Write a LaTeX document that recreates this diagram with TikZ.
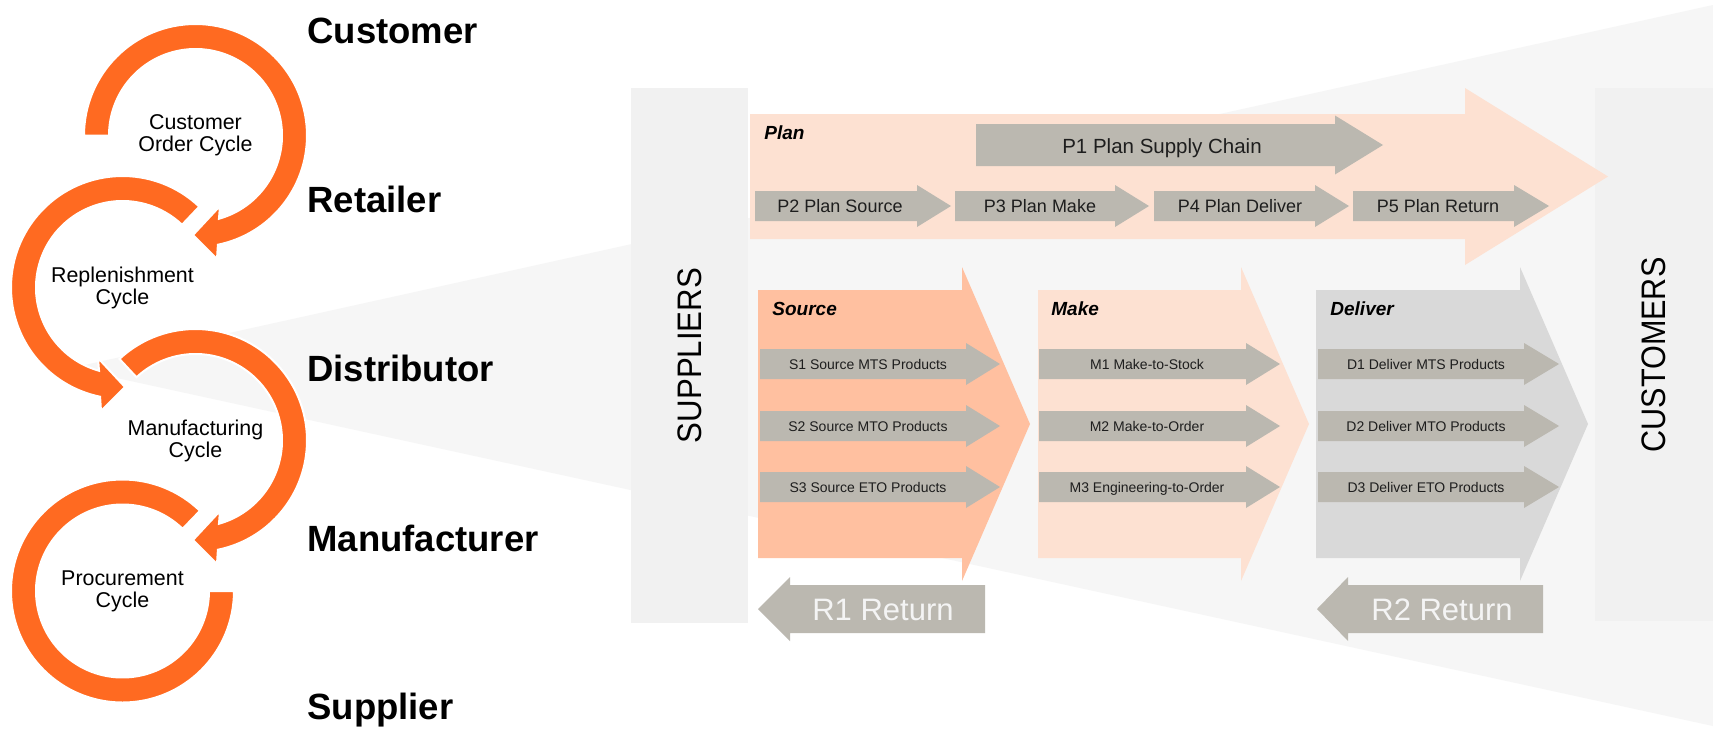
\documentclass[tikz,border=0pt]{standalone}
\usepackage{fontspec}
\setmainfont{Liberation Sans}
\definecolor{ringor}{HTML}{FF6A21}
\definecolor{srccol}{HTML}{FFC0A0}
\definecolor{lightpk}{HTML}{FDE1D2}
\definecolor{delcol}{HTML}{D9D9D9}
\definecolor{arrgrey}{HTML}{BBB8B0}
\definecolor{funnelcol}{HTML}{F6F6F6}
\definecolor{barcol}{HTML}{F1F1F1}
\definecolor{txtdark}{HTML}{1E1E1E}
\definecolor{rtextcol}{HTML}{F4F4F4}
\newcommand{\fwdarrow}[7]{\fill[#1] (#2,{#5-#6}) -- (#3,{#5-#6}) -- (#3,{#5-#7}) -- (#4,#5) -- (#3,{#5+#7}) -- (#3,{#5+#6}) -- (#2,{#5+#6}) -- cycle;}
\newcommand{\backarrow}[7]{\fill[#1] (#2,#5) -- (#3,{#5-#7}) -- (#3,{#5-#6}) -- (#4,{#5-#6}) -- (#4,{#5+#6}) -- (#3,{#5+#6}) -- (#3,{#5+#7}) -- cycle;}
\newcommand{\cwring}[3]{%
  \begin{scope}[shift={(#1,#2)}]
    \filldraw[ringfill] (#3:111.5) arc[start angle=#3, end angle=438.4, radius=111.5]
      -- (21.5,123.5) -- (-2.5,99.5) -- (24.5,70.5) -- (434.25:86.5)
      arc[start angle=434.25, end angle=#3, radius=86.5] -- cycle;
  \end{scope}}
\newcommand{\ccwring}[3]{%
  \begin{scope}[shift={(#1,#2)}]
    \filldraw[ringfill] (#3:111.5) arc[start angle=#3, end angle=101.6, radius=111.5]
      -- (-21.5,123.5) -- (2.5,99.5) -- (-24.5,70.5) -- (105.75:86.5)
      arc[start angle=105.75, end angle=#3, radius=86.5] -- cycle;
  \end{scope}}
\tikzset{
  ringfill/.style={fill=ringor, draw=white, line width=1pt, line join=miter},
  biglab/.style={font=\fontsize{18.25}{22}\selectfont\bfseries, anchor=base west, inner sep=0pt},
  cyctext/.style={font=\fontsize{10.7}{11}\selectfont, align=center, inner sep=0pt},
  ptext/.style={font=\fontsize{9}{11}\selectfont, anchor=base, inner sep=0pt, text=txtdark},
  p1text/.style={font=\fontsize{10.25}{12}\selectfont, anchor=base, inner sep=0pt, text=txtdark},
  stext/.style={font=\fontsize{7}{8}\selectfont, anchor=base, inner sep=0pt, text=txtdark},
  headtext/.style={font=\fontsize{9.5}{11}\selectfont\bfseries\itshape, anchor=base west, inner sep=0pt},
  rtext/.style={font=\fontsize{15.5}{18}\selectfont, anchor=base, inner sep=0pt, text=rtextcol},
  bartext/.style={font=\fontsize{17}{20}\selectfont, rotate=90, inner sep=0pt},
}
\begin{document}
\begin{tikzpicture}[x=0.5pt, y=-0.5pt]
\fill[white] (0,0) rectangle (1713,729);
\path[use as bounding box] (0,0) rectangle (1713,729);
% funnel
\fill[funnelcol] (71,368) -- (1713,5) -- (1713,726) -- cycle;
% side bars
\fill[barcol] (631,88) rectangle (748,623);
\fill[barcol] (1595,88) rectangle (1713,621);
\node[bartext] (suppliers) at (689.5,355.5) {\scalebox{0.917}[1]{SUPPLIERS}};
\node[bartext] (customers) at (1654,355) {\scalebox{0.9}[1]{CUSTOMERS}};
% plan
\fwdarrow{lightpk}{750}{1465}{1608}{176.5}{62.5}{88.5}
\fwdarrow{arrgrey}{976}{1335}{1383}{145}{21}{29.5}
\fwdarrow{arrgrey}{755}{917}{951}{206}{15}{21}
\fwdarrow{arrgrey}{955}{1115}{1149}{206}{15}{21}
\fwdarrow{arrgrey}{1154}{1315}{1349}{206}{15}{21}
\fwdarrow{arrgrey}{1353}{1514}{1549}{206}{15}{21}
\node[headtext] (plan) at (764,139) {Plan};
\node[p1text] (p1) at (1162,153) {P1 Plan Supply Chain};
\node[ptext] (p2) at (840,212.5) {P2 Plan Source};
\node[ptext] (p3) at (1040,212.5) {P3 Plan Make};
\node[ptext] (p4) at (1240,212.5) {P4 Plan Deliver};
\node[ptext] (p5) at (1438,212.5) {P5 Plan Return};
% blocks
\fwdarrow{srccol}{758}{962}{1030}{424}{134}{157}
\fwdarrow{lightpk}{1038}{1241}{1309}{424}{134}{157}
\fwdarrow{delcol}{1316}{1520}{1588}{424}{134}{157}
\node[headtext] (source) at (772,315) {Source};
\node[headtext] (make) at (1051,315) {Make};
\node[headtext] (deliver) at (1330,315) {Deliver};
\foreach \yy in {364,426,487}{
  \fwdarrow{arrgrey}{760}{966}{1000}{\yy}{15}{21}
  \fwdarrow{arrgrey}{1039}{1246}{1280}{\yy}{15}{21}
  \fwdarrow{arrgrey}{1318}{1524}{1559}{\yy}{15}{21}
}
\node[stext] (s1) at (868,369) {S1 Source MTS Products};
\node[stext] (s2) at (868,431) {S2 Source MTO Products};
\node[stext] (s3) at (868,492) {S3 Source ETO Products};
\node[stext] (m1) at (1147,369) {M1 Make-to-Stock};
\node[stext] (m2) at (1147,431) {M2 Make-to-Order};
\node[stext] (m3) at (1147,492) {M3 Engineering-to-Order};
\node[stext] (d1) at (1426,369) {D1 Deliver MTS Products};
\node[stext] (d2) at (1426,431) {D2 Deliver MTO Products};
\node[stext] (d3) at (1426,492) {D3 Deliver ETO Products};
% returns
\backarrow{arrgrey}{758}{790}{985}{609}{24}{32}
\backarrow{arrgrey}{1317}{1348}{1543}{609}{24}{32}
\node[rtext] (r1) at (883,620) {R1 Return};
\node[rtext] (r2) at (1442,620) {R2 Return};
% rings
\begin{scope}[shift={(122.5,591)}]
  \filldraw[ringfill] (0:111.5) arc[start angle=0, end angle=314, radius=111.5]
    -- (314:86.5) arc[start angle=314, end angle=0, radius=86.5] -- cycle;
\end{scope}
\cwring{195.5}{440.5}{227}
\ccwring{122.5}{287.5}{313.5}
\cwring{195.5}{135.5}{180}
\node[cyctext] (c1) at (195.5,135.5) {Customer\\Order Cycle};
\node[cyctext] (c2) at (122.5,287.5) {Replenishment\\Cycle};
\node[cyctext] (c3) at (195.5,440.5) {Manufacturing\\Cycle};
\node[cyctext] (c4) at (122.5,591) {Procurement\\Cycle};
% level labels
\node[biglab] (lcust) at (307,43) {Customer};
\node[biglab] (lret) at (307,212) {Retailer};
\node[biglab] (ldist) at (307,381) {Distributor};
\node[biglab] (lman) at (307,551) {Manufacturer};
\node[biglab] (lsup) at (307,719) {Supplier};
\end{tikzpicture}
\end{document}
